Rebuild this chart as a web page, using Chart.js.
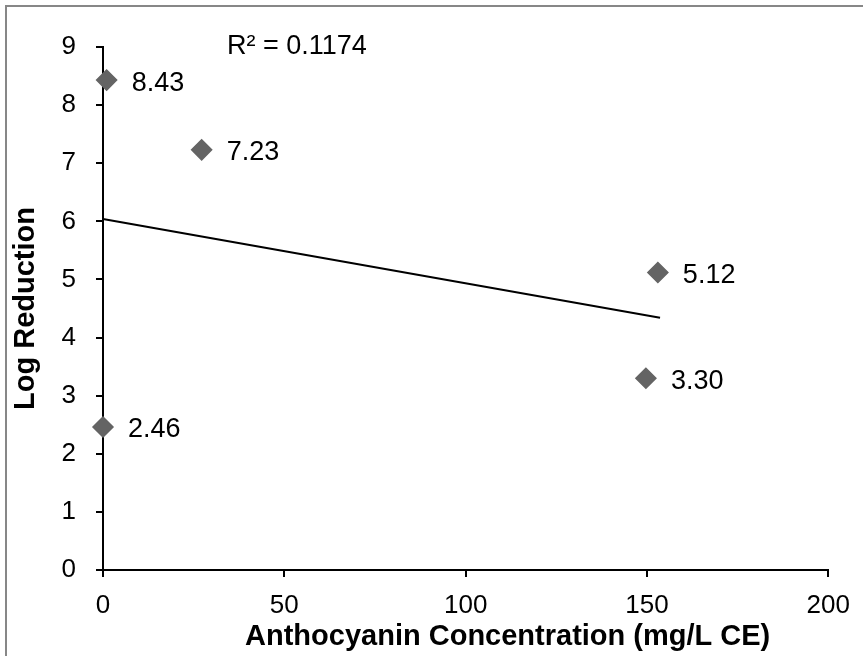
<!DOCTYPE html>
<html>
<head>
<meta charset="utf-8">
<script src="https://cdn.jsdelivr.net/npm/chart.js@4/dist/chart.umd.min.js"></script>
<style>
  html, body { margin: 0; padding: 0; background: #fff; }
  #wrap { width: 863px; height: 656px; position: relative; }
</style>
</head>
<body>
<div id="wrap"><canvas id="c" width="863" height="656"></canvas></div>
<script>
// ---- data ----
const concentration = [0, 1.0, 27.2, 149.7, 153.0];      // mg/L CE
const logReduction  = [2.46, 8.43, 7.23, 3.30, 5.12];
const trendX = [0, 153.6];                                 // trendline ends
const trendY = [6.04, 4.34];
const xTicks = [0, 50, 100, 150, 200];
const yTicks = [0, 1, 2, 3, 4, 5, 6, 7, 8, 9];
const xTitle = 'Anthocyanin Concentration (mg/L CE)';
const yTitle = 'Log Reduction';
const r2Text = 'R\u00B2 = 0.1174';

const FONT = "'Liberation Sans', Arial, sans-serif";

const points = concentration.map((x, i) => ({ x: x, y: logReduction[i] }));
const trend = trendX.map((x, i) => ({ x: x, y: trendY[i] }));

const framePlugin = {
  id: 'frame',
  beforeDraw(chart) {
    const ctx = chart.ctx;
    ctx.save();
    ctx.fillStyle = '#fff';
    ctx.fillRect(0, 0, chart.width, chart.height);
    ctx.strokeStyle = '#878787';
    ctx.lineWidth = 2;
    ctx.strokeRect(6, 6, chart.width + 20, chart.height + 20);
    ctx.restore();
  }
};

const labelsPlugin = {
  id: 'pointLabels',
  afterDatasetsDraw(chart) {
    const ctx = chart.ctx;
    const meta = chart.getDatasetMeta(0);
    ctx.save();
    ctx.font = '27px ' + FONT;
    ctx.fillStyle = '#000';
    ctx.textAlign = 'left';
    ctx.textBaseline = 'middle';
    meta.data.forEach((el, i) => {
      ctx.fillText(logReduction[i].toFixed(2), el.x + 25, el.y + 3);
    });
    // R² annotation
    const a = chart.chartArea;
    ctx.fillText(r2Text, a.left + 124, a.top + 0);
    // x-axis title
    ctx.font = 'bold 29px ' + FONT;
    ctx.textAlign = 'center';
    ctx.fillText(xTitle, (a.left + a.right) / 2 + 42, 637);
    ctx.restore();
  }
};

new Chart(document.getElementById('c'), {
  type: 'scatter',
  data: {
    datasets: [
      {
        data: points,
        pointStyle: 'rectRot',
        pointRadius: 10,
        pointHoverRadius: 10,
        backgroundColor: '#646464',
        borderColor: '#646464',
        borderWidth: 1.5,
        showLine: false,
        clip: false
      },
      {
        data: trend,
        showLine: true,
        pointRadius: 0,
        borderColor: '#000',
        borderWidth: 2,
        fill: false,
        clip: false
      }
    ]
  },
  options: {
    responsive: false,
    animation: false,
    devicePixelRatio: 1,
    events: [],
    layout: { padding: { left: 0, top: 47, right: 33, bottom: 0 } },
    plugins: { legend: { display: false }, tooltip: { enabled: false } },
    scales: {
      x: {
        type: 'linear',
        min: 0, max: 200,
        afterBuildTicks(scale) { scale.ticks = xTicks.map(v => ({ value: v })); },
        afterFit(scale) { scale.height = 86; },
        border: { display: true, color: '#000', width: 2 },
        grid: { display: true, drawOnChartArea: false, drawTicks: true, tickLength: 7, color: '#000', lineWidth: 2 },
        ticks: { color: '#000', font: { family: FONT, size: 26 }, padding: 13, maxRotation: 0 },
        title: { display: false }
      },
      y: {
        type: 'linear',
        min: 0, max: 9,
        afterBuildTicks(scale) { scale.ticks = yTicks.map(v => ({ value: v })); },
        afterFit(scale) { scale.width = 103; },
        border: { display: true, color: '#000', width: 2 },
        grid: { display: true, drawOnChartArea: false, drawTicks: true, tickLength: 7, color: '#000', lineWidth: 2 },
        ticks: { color: '#000', font: { family: FONT, size: 26 }, padding: 20 },
        title: {
          display: true,
          text: yTitle,
          color: '#000',
          font: { family: FONT, size: 29, weight: 'bold' },
          padding: { top: 9, bottom: 0 }
        }
      }
    }
  },
  plugins: [framePlugin, labelsPlugin]
});
</script>
</body>
</html>
